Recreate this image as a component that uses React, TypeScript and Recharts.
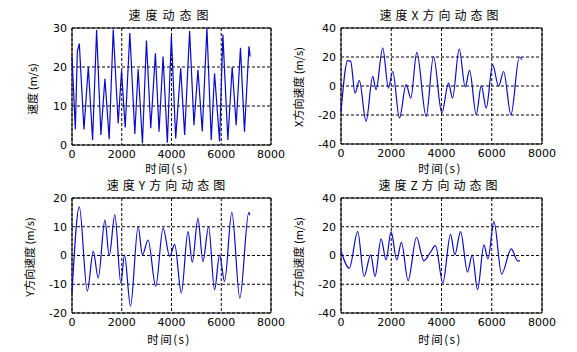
import { LineChart, Line, XAxis, YAxis, CartesianGrid, ReferenceArea } from "recharts";

const timeTicks = [0, 2000, 4000, 6000, 8000];

// speed magnitude
const speedTime = [
  0, 134, 214, 294, 481, 655, 828, 989, 1162, 1323, 1496, 1657, 1857, 1991, 2138,
  2325, 2525, 2659, 2832, 2993, 3166, 3353, 3500, 3661, 3834, 3995, 4168, 4369,
  4529, 4729, 4903, 5063, 5237, 5424, 5598, 5731, 5932, 6065, 6266, 6440, 6600,
  6773, 6934, 7115, 7161,
];
const speedValue = [
  22.7, 4, 24, 26, 4, 20, 1.3, 29.5, 2.6, 17, 1.5, 29.6, 5.5, 19, 4.5, 28.7, 2.8,
  19.5, 0.4, 26.8, 4.3, 23.5, 3.4, 22.7, 0.6, 28, 1.7, 19.7, 2.6, 29.2, 5.1, 19.3,
  3.5, 30, 1.3, 18.4, 0.9, 28.3, 1.3, 20, 5.1, 24.9, 3.4, 25.3, 22.7,
];

// X component
const xTime = [
  0, 266, 385, 558, 731, 997, 1263, 1395, 1661, 1887, 2060, 2326, 2592, 2778, 3017,
  3389, 3681, 4014, 4280, 4439, 4705, 4944, 5117, 5382, 5582, 5781, 6034, 6273,
  6472, 6765, 7097, 7203,
];
const xValue = [
  -18, 17.5, 17, -4.8, 3.7, -24.4, 6.7, -2.5, 26.2, -1.4, 10, -22, 0.9, -8.3, 23.2,
  -21, 20.5, -18.6, 2, -8.3, 25.5, -0.7, 10.8, -19.8, 0.2, -15.2, 14.7, -0.2, 10,
  -19.8, 20, 18.2,
];

// Y component
const yTime = [
  0, 294, 615, 855, 1055, 1323, 1496, 1723, 1964, 2111, 2351, 2659, 2832, 3059,
  3367, 3661, 3928, 4128, 4395, 4663, 4836, 5063, 5264, 5491, 5731, 5932, 6132,
  6426, 6747, 7108, 7148,
];
const yValue = [
  -13, 16.9, -12.4, 1.4, -7.8, 12.3, -0.1, 14.1, -9.6, 0.2, -17.6, 10, 0.2, 5.4,
  -10.7, 9.5, -0.3, 3.9, -13, 8.3, -2.3, 12.9, -2.1, 10, -11.9, 0.2, -9, 15,
  -14.8, 15, 14,
];

// Z component
const zTime = [
  0, 332, 665, 917, 1183, 1356, 1595, 1794, 1994, 2219, 2406, 2671, 3004, 3296,
  3562, 3761, 4053, 4359, 4532, 4758, 5037, 5223, 5436, 5688, 5848, 6087, 6392,
  6778, 7030, 7123,
];
const zValue = [
  3.2, -8.8, 16.6, -14.5, 0.5, -14.5, 11.5, -3, 16.6, -3, 9.2, -17.5, 12.7, -3.7,
  2.3, 6.9, -19.1, 14.7, 0.5, 16.6, -11.5, 0.5, -23.7, 7.4, -2.3, 23.5, -12.9, 4.6,
  -3.7, -3.7,
];

const tickStyle = { fill: "#000", fontSize: 11, fontFamily: "DejaVu Sans" };
const cjk = "'Noto Sans CJK SC', sans-serif";

type PanelProps = {
  left: number;
  top: number;
  width: number;
  height: number;
  time: number[];
  value: number[];
  yDomain: [number, number];
  yTicks: number[];
  curve: "linear" | "monotone";
};

function Panel({ left, top, width, height, time, value, yDomain, yTicks, curve }: PanelProps) {
  const data = time.map((t, i) => ({ t, v: value[i] }));
  return (
    <div style={{ position: "absolute", left: left - 40, top: top - 8 }}>
      <LineChart
        width={width + 60}
        height={height + 33}
        data={data}
        margin={{ top: 8, right: 20, left: 0, bottom: 0 }}
      >
        <CartesianGrid stroke="#000" strokeDasharray="3 2" />
        <XAxis
          type="number"
          dataKey="t"
          domain={[0, 8000]}
          ticks={timeTicks}
          interval={0}
          height={25}
          axisLine={false}
          tickLine={false}
          tickSize={4}
          tickMargin={1}
          tick={tickStyle}
        />
        <YAxis
          type="number"
          domain={yDomain}
          ticks={yTicks}
          interval={0}
          width={40}
          axisLine={false}
          tickLine={false}
          tickSize={4}
          tickMargin={1}
          tick={tickStyle}
        />
        <ReferenceArea
          x1={0}
          x2={8000}
          y1={yDomain[0]}
          y2={yDomain[1]}
          fill="none"
          stroke="#000"
          strokeWidth={1}
        />
        <Line
          type={curve}
          dataKey="v"
          stroke="#0a0ac8"
          strokeWidth={1.2}
          dot={false}
          isAnimationActive={false}
        />
      </LineChart>
    </div>
  );
}

export default function App() {
  return (
    <div
      style={{
        position: "absolute",
        left: 0,
        top: 0,
        width: 577,
        height: 352,
        background: "#fff",
        overflow: "hidden",
      }}
    >
      <Panel left={72} top={28} width={199} height={117} time={speedTime} value={speedValue}
        yDomain={[0, 30]} yTicks={[0, 10, 20, 30]} curve="linear" />
      <Panel left={341} top={28} width={201} height={116} time={xTime} value={xValue}
        yDomain={[-40, 40]} yTicks={[-40, -20, 0, 20, 40]} curve="monotone" />
      <Panel left={72} top={198} width={199} height={115} time={yTime} value={yValue}
        yDomain={[-20, 20]} yTicks={[-20, -10, 0, 10, 20]} curve="monotone" />
      <Panel left={341} top={198} width={201} height={115} time={zTime} value={zValue}
        yDomain={[-40, 40]} yTicks={[-40, -20, 0, 20, 40]} curve="monotone" />
      <svg
        width={577}
        height={352}
        style={{ position: "absolute", left: 0, top: 0, pointerEvents: "none" }}
      >
        <g fontFamily={cjk} fill="#000" textAnchor="middle">
          <text x={171} y={20} fontSize={12} letterSpacing={5}>速度动态图</text>
          <text x={441} y={20} fontSize={12} letterSpacing={4}>速度X方向动态图</text>
          <text x={168} y={190} fontSize={12} letterSpacing={4}>速度Y方向动态图</text>
          <text x={440} y={190} fontSize={12} letterSpacing={4}>速度Z方向动态图</text>
          <text x={167} y={173} fontSize={11.5} letterSpacing={1.5}>时间(s)</text>
          <text x={440} y={173} fontSize={11.5} letterSpacing={1.5}>时间(s)</text>
          <text x={169} y={344} fontSize={11.5} letterSpacing={1.5}>时间(s)</text>
          <text x={440} y={344} fontSize={11.5} letterSpacing={1.5}>时间(s)</text>
          <text transform="translate(37,89) rotate(-90)" fontSize={11}>速度 (m/s)</text>
          <text transform="translate(303,87) rotate(-90)" fontSize={11}>X方向速度 (m/s)</text>
          <text transform="translate(34,257) rotate(-90)" fontSize={11}>Y方向速度 (m/s)</text>
          <text transform="translate(303,257) rotate(-90)" fontSize={11}>Z方向速度 (m/s)</text>
        </g>
      </svg>
    </div>
  );
}
